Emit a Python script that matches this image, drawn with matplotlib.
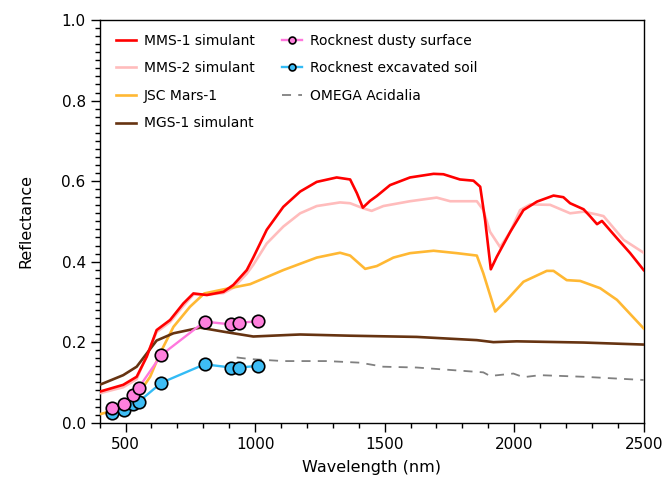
import matplotlib.pyplot as plt
from matplotlib.ticker import MultipleLocator

# MMS-1 simulant
mms1_wl = [400, 491, 543, 582, 620, 672, 723, 762, 814, 878, 916, 968, 993, 1045, 1109,
           1174, 1238, 1315, 1367, 1393, 1416, 1444, 1470, 1521, 1598, 1689, 1727, 1791,
           1843, 1869, 1888, 1910, 1933, 1985, 2036, 2088, 2152, 2190, 2216, 2268, 2294,
           2320, 2339, 2397, 2448, 2500]
mms1_r = [0.077, 0.094, 0.114, 0.164, 0.230, 0.255, 0.296, 0.321, 0.317, 0.325, 0.342,
          0.379, 0.410, 0.479, 0.536, 0.574, 0.598, 0.609, 0.604, 0.570, 0.534, 0.551,
          0.563, 0.590, 0.609, 0.618, 0.617, 0.604, 0.601, 0.586, 0.503, 0.381, 0.412,
          0.474, 0.528, 0.549, 0.564, 0.560, 0.545, 0.530, 0.512, 0.493, 0.501, 0.458,
          0.421, 0.379]

# MMS-2 simulant
mms2_wl = [400, 491, 543, 582, 620, 672, 723, 762, 814, 878, 916, 968, 993, 1045, 1109,
           1174, 1238, 1328, 1367, 1419, 1450, 1495, 1598, 1701, 1753, 1856, 1881, 1907,
           1946, 1985, 2023, 2062, 2139, 2216, 2268, 2320, 2345, 2423, 2500]
mms2_r = [0.073, 0.088, 0.108, 0.168, 0.225, 0.250, 0.290, 0.318, 0.318, 0.322, 0.335,
          0.370, 0.392, 0.445, 0.487, 0.520, 0.538, 0.547, 0.545, 0.532, 0.526, 0.538,
          0.550, 0.559, 0.550, 0.550, 0.528, 0.474, 0.436, 0.474, 0.528, 0.542, 0.541,
          0.520, 0.524, 0.517, 0.513, 0.454, 0.422]

# JSC Mars-1
jsc_wl = [400, 491, 543, 595, 633, 685, 749, 804, 878, 981, 1109, 1238, 1328, 1367,
          1425, 1470, 1534, 1598, 1689, 1779, 1856, 1881, 1927, 1972, 2036, 2126, 2152,
          2203, 2255, 2332, 2397, 2500]
jsc_r = [0.021, 0.036, 0.065, 0.114, 0.172, 0.238, 0.288, 0.321, 0.331, 0.344, 0.379,
         0.410, 0.422, 0.415, 0.382, 0.389, 0.410, 0.421, 0.427, 0.421, 0.415, 0.371,
         0.276, 0.305, 0.350, 0.377, 0.377, 0.354, 0.352, 0.334, 0.305, 0.234]

# MGS-1 simulant
mgs_wl = [400, 491, 543, 582, 620, 685, 788, 878, 993, 1135, 1174, 1367, 1624, 1856,
          1920, 2010, 2268, 2500]
mgs_r = [0.094, 0.118, 0.139, 0.172, 0.204, 0.222, 0.236, 0.226, 0.214, 0.218, 0.219,
         0.216, 0.213, 0.205, 0.200, 0.202, 0.199, 0.194]

# Mastcam filters, Rocknest
mast_wl = [447, 493, 527, 551, 638, 805, 908, 937, 1012]
dusty_r = [0.036, 0.047, 0.068, 0.087, 0.168, 0.251, 0.244, 0.248, 0.252]
soil_r = [0.023, 0.032, 0.046, 0.052, 0.099, 0.145, 0.137, 0.137, 0.141]

# OMEGA Acidalia
omega_wl = [929, 981, 1109, 1277, 1405, 1495, 1624, 1881, 1907, 1997, 2036, 2100, 2268, 2500]
omega_r = [0.162, 0.158, 0.153, 0.153, 0.149, 0.139, 0.137, 0.125, 0.116, 0.122, 0.113,
           0.118, 0.114, 0.106]

plt.rcParams['font.family'] = 'DejaVu Sans'

fig = plt.figure(figsize=(6.7, 4.92), dpi=100)
ax = fig.add_axes([0.1487, 0.1409, 0.812, 0.8184])

ax.plot(mms1_wl, mms1_r, color='#ff0000', lw=1.9, label='MMS-1 simulant', zorder=4)
ax.plot(mms2_wl, mms2_r, color='#ffbcbc', lw=1.9, label='MMS-2 simulant', zorder=3)
ax.plot(jsc_wl, jsc_r, color='#ffb833', lw=1.9, label='JSC Mars-1', zorder=3)
ax.plot(mgs_wl, mgs_r, color='#663311', lw=1.9, label='MGS-1 simulant', zorder=3)
ax.plot(mast_wl, dusty_r, color='#ff77dd', lw=1.7, marker='o', ms=9,
        mfc='#ff80dd', mec='black', mew=1.2, label='Rocknest dusty surface', zorder=6)
ax.plot(mast_wl, soil_r, color='#33bbf5', lw=1.7, marker='o', ms=9,
        mfc='#3ebdf5', mec='black', mew=1.2, label='Rocknest excavated soil', zorder=5)
ax.plot(omega_wl, omega_r, color='#808080', lw=1.3, ls=(0, (5, 4)),
        label='OMEGA Acidalia', zorder=3)

ax.set_xlim(400, 2500)
ax.set_ylim(0, 1.0)
ax.xaxis.set_major_locator(MultipleLocator(500))
ax.xaxis.set_minor_locator(MultipleLocator(100))
ax.yaxis.set_major_locator(MultipleLocator(0.2))
ax.yaxis.set_minor_locator(MultipleLocator(0.02))
ax.yaxis.set_major_formatter(plt.FuncFormatter(lambda v, p: f'{v:.1f}'))
ax.tick_params(which='major', direction='out', length=6.5, width=1, labelsize=11)
ax.tick_params(which='minor', direction='out', length=3.6, width=1)
for s in ax.spines.values():
    s.set_linewidth(1)

ax.set_xlabel('Wavelength (nm)', fontsize=11.5, labelpad=6)
ax.set_ylabel('Reflectance', fontsize=11.5, labelpad=20)

ax.legend(loc='upper left', bbox_to_anchor=(0.02, 0.98), ncol=2, frameon=False,
          fontsize=10, handlelength=1.4, handletextpad=0.6, labelspacing=0.98,
          columnspacing=2.0, markerscale=0.55, borderaxespad=0)

fig.savefig('out.png', dpi=100)
